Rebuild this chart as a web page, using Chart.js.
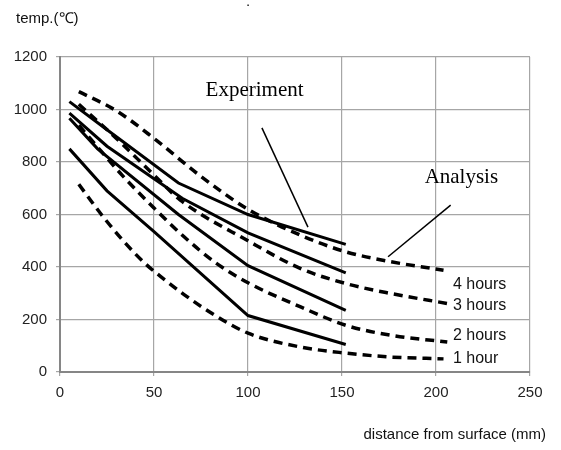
<!DOCTYPE html>
<html lang="en">
<head>
  <meta charset="UTF-8" />
  <title>Temperature vs distance from surface</title>
  <script src="https://cdn.jsdelivr.net/npm/chart.js"></script>
  <style>
    body { margin: 0; background: #fff; }
    #wrap { width: 561px; height: 450px; }
  </style>
</head>
<body>
  <div id="wrap"><canvas id="tempChart"></canvas></div>

  <script>
    // Experiment (measured) - solid lines
    const exp1hX = [5, 25, 50, 100, 152];
    const exp1hT = [850, 690, 535, 215, 105];
    const exp2hX = [5, 20, 63, 100, 152];
    const exp2hT = [967, 850, 600, 405, 235];
    const exp3hX = [5, 25, 65, 100, 152];
    const exp3hT = [986, 860, 662, 530, 378];
    const exp4hX = [5, 25, 63, 100, 152];
    const exp4hT = [1030, 923, 720, 600, 486];

    // Analysis - dashed lines
    const ana1hX = [10, 22, 33, 45, 56, 66, 82, 100, 128, 152, 176, 204];
    const ana1hT = [715, 600, 505, 415, 350, 295, 218, 148, 95, 72, 57, 50];
    const ana2hX = [10, 22, 33, 50, 66, 83, 100, 128, 152, 176, 206];
    const ana2hT = [940, 840, 750, 625, 515, 415, 340, 248, 178, 140, 114];
    const ana3hX = [10, 30, 50, 64, 100, 128, 152, 176, 206];
    const ana3hT = [1020, 890, 750, 655, 500, 394, 337, 299, 261];
    const ana4hX = [10, 30, 50, 75, 100, 128, 152, 176, 204];
    const ana4hT = [1068, 995, 890, 745, 620, 521, 458, 420, 388];

    const xTicks = [0, 50, 100, 150, 200, 250];
    const yTicks = [0, 200, 400, 600, 800, 1000, 1200];

    const toPoints = (xs, ys) => xs.map((x, i) => ({ x: x, y: ys[i] }));

    function solid(xs, ys) {
      return {
        data: toPoints(xs, ys),
        borderColor: '#000',
        borderWidth: 3,
        pointRadius: 0,
        tension: 0
      };
    }
    function dashed(xs, ys) {
      return {
        data: toPoints(xs, ys),
        borderColor: '#000',
        borderWidth: 3.5,
        borderDash: [9, 6],
        pointRadius: 0,
        cubicInterpolationMode: 'monotone'
      };
    }

    // text and leader lines, placed in data units
    const notes = {
      experiment: { x: 103.5, y: 1072, lineFrom: [107.4, 930], lineTo: [131.9, 552] },
      analysis: { x: 213.5, y: 742, lineFrom: [207.8, 636], lineTo: [174.5, 439] },
      hours: [
        { text: '4 hours', x: 209, y: 332 },
        { text: '3 hours', x: 209, y: 254 },
        { text: '2 hours', x: 209, y: 139 },
        { text: '1 hour', x: 209, y: 51 }
      ]
    };

    const annotate = {
      id: 'annotate',
      afterDraw(chart) {
        const c = chart.ctx, xs = chart.scales.x, ys = chart.scales.y;
        const px = v => xs.getPixelForValue(v), py = v => ys.getPixelForValue(v);
        c.save();
        c.fillStyle = '#000';
        c.strokeStyle = '#000';
        c.lineWidth = 1.5;
        c.textBaseline = 'middle';

        c.font = '21px "Liberation Serif", serif';
        c.textAlign = 'center';
        c.fillText('Experiment', px(notes.experiment.x), py(notes.experiment.y));
        c.fillText('Analysis', px(notes.analysis.x), py(notes.analysis.y));

        [notes.experiment, notes.analysis].forEach(n => {
          c.beginPath();
          c.moveTo(px(n.lineFrom[0]), py(n.lineFrom[1]));
          c.lineTo(px(n.lineTo[0]), py(n.lineTo[1]));
          c.stroke();
        });

        c.font = '16px "Liberation Sans", Arial, sans-serif';
        c.textAlign = 'left';
        c.fillStyle = '#111';
        notes.hours.forEach(h => c.fillText(h.text, px(h.x), py(h.y)));

        c.font = '15px "Liberation Sans", Arial, sans-serif';
        c.fillText('temp.(℃)', 16, 19);
        c.textAlign = 'right';
        c.fillText('distance from surface (mm)', 546, 435);
        c.textAlign = 'center';
        c.fillText('.', 248, 2);
        c.restore();
      }
    };

    new Chart(document.getElementById('tempChart'), {
      type: 'line',
      data: {
        datasets: [
          solid(exp1hX, exp1hT), solid(exp2hX, exp2hT),
          solid(exp3hX, exp3hT), solid(exp4hX, exp4hT),
          dashed(ana1hX, ana1hT), dashed(ana2hX, ana2hT),
          dashed(ana3hX, ana3hT), dashed(ana4hX, ana4hT)
        ]
      },
      options: {
        responsive: true,
        maintainAspectRatio: false,
        animation: false,
        layout: { padding: { left: 0, top: 57, right: 31, bottom: 0 } },
        plugins: { legend: { display: false }, tooltip: { enabled: false } },
        scales: {
          x: {
            type: 'linear',
            min: 0,
            max: 250,
            afterBuildTicks: s => { s.ticks = xTicks.map(v => ({ value: v })); },
            afterFit: s => { s.height = 78; },
            grid: { color: '#a6a6a6', lineWidth: 1.2, tickLength: 4 },
            border: { color: '#868686', width: 2 },
            ticks: {
              color: '#222', padding: 8,
              font: { family: 'Liberation Sans', size: 15 },
              callback: v => String(v)
            }
          },
          y: {
            min: 0,
            max: 1200,
            afterBuildTicks: s => { s.ticks = yTicks.map(v => ({ value: v })); },
            afterFit: s => { s.width = 60; },
            grid: { color: '#a6a6a6', lineWidth: 1.2, tickLength: 4 },
            border: { color: '#868686', width: 2 },
            ticks: {
              color: '#222', padding: 9,
              font: { family: 'Liberation Sans', size: 15 },
              callback: v => String(v)
            }
          }
        }
      },
      plugins: [annotate]
    });
  </script>
</body>
</html>
